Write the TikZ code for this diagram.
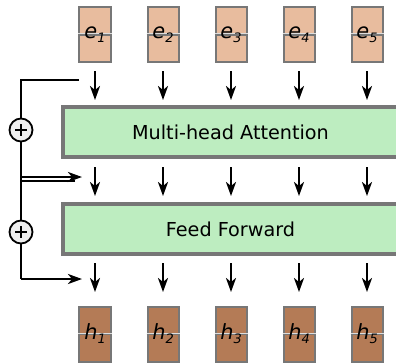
\documentclass[tikz,border=0pt]{standalone}
\usepackage{fontspec}
\setmainfont{DejaVu Sans}
\usetikzlibrary{arrows.meta}
\definecolor{epeach}{RGB}{232,188,158}
\definecolor{hbrown}{RGB}{180,123,86}
\definecolor{lgreen}{RGB}{189,237,192}
\definecolor{bgray}{RGB}{119,119,119}
\definecolor{cfill}{RGB}{238,238,238}
\newcommand{\lab}[2]{\textit{#1}\raisebox{-0.35ex}{\fontsize{13}{13}\selectfont\textit{#2}}}
\tikzset{
  vec/.style={draw=bgray, line width=2bp, minimum width=31bp, minimum height=55bp, inner sep=0pt, font=\fontsize{19}{19}\selectfont},
  evec/.style={vec, fill=epeach},
  hvec/.style={vec, fill=hbrown},
  layer/.style={draw=bgray, line width=3.2bp, fill=lgreen},
  arr/.style={line width=2.3bp, -{Stealth[length=14bp,width=10bp,inset=4bp]}},
  skip/.style={line width=2bp},
  plus/.style={circle, draw, line width=1.8bp, fill=cfill, minimum size=23bp, inner sep=0pt},
  midline/.style={draw=bgray, line width=1.3bp},
  midlight/.style={draw=white!75!bgray, line width=0.8bp}
}
\begin{document}
\begin{tikzpicture}[x=1bp,y=-1bp]
\clip (0,0) rectangle (396,363);
\fill[white] (0,0) rectangle (396,363);
% layers
\path[layer] (63,107) rectangle (402,157);
\node[font=\fontsize{19.3}{19}\selectfont] (mha) at (230.5,132) {Multi-head Attention};
\path[layer] (63,204) rectangle (402,254);
\node[font=\fontsize{19.3}{19}\selectfont] (ff) at (230.5,229) {Feed Forward};
% vectors
\foreach \i/\x in {1/95,2/163,3/231,4/299,5/367}{
  \node[evec] (e\i) at (\x,34.5) {};
  \draw[midline] ([yshift=-0.5bp]e\i.west) -- ([yshift=-0.5bp]e\i.east);
  \draw[midlight] ([yshift=1bp]e\i.west) -- ([yshift=1bp]e\i.east);
  \node[font=\fontsize{21}{21}\selectfont] (et\i) at (e\i.center) {\lab{e}{\i}};
  \node[hvec] (h\i) at (\x,334) {};
  \draw[midline] ([yshift=-0.5bp]h\i.west) -- ([yshift=-0.5bp]h\i.east);
  \draw[midlight] ([yshift=1bp]h\i.west) -- ([yshift=1bp]h\i.east);
  \node[font=\fontsize{21}{21}\selectfont] (ht\i) at (h\i.center) {\lab{h}{\i}};
  \coordinate (a\i) at (\x,71);
  \coordinate (b\i) at (\x,100);
  \coordinate (c\i) at (\x,167);
  \coordinate (d\i) at (\x,196);
  \coordinate (f\i) at (\x,263);
  \coordinate (g\i) at (\x,292);
  \draw[arr] (a\i) -- (b\i);
  \draw[arr] (c\i) -- (d\i);
  \draw[arr] (f\i) -- (g\i);
}
% residual connections
\node[plus] (p1) at (21,130) {};
\draw[line width=1.3bp] (p1.center) ++(-6,0) -- ++(12,0) (p1.center) ++(0,-6) -- ++(0,12);
\node[plus] (p2) at (21,232) {};
\draw[line width=1.3bp] (p2.center) ++(-6,0) -- ++(12,0) (p2.center) ++(0,-6) -- ++(0,12);
\coordinate (s1) at (79,80);
\coordinate (k1) at (21,80);
\coordinate (t1) at (21,177);
\coordinate (r1) at (82,177);
\coordinate (s2) at (75,181);
\coordinate (k2) at (21,181);
\coordinate (t2) at (21,279);
\coordinate (r2) at (82,279);
\draw[skip] (s1) -- (k1) -- (p1.north);
\draw[skip] (p1.south) -- (t1);
\draw[arr] (t1) -- (r1);
\draw[skip] (s2) -- (k2);
\draw[skip] (t1) -- (p2.north);
\draw[skip] (p2.south) -- (t2);
\draw[arr] (t2) -- (r2);
\end{tikzpicture}
\end{document}
